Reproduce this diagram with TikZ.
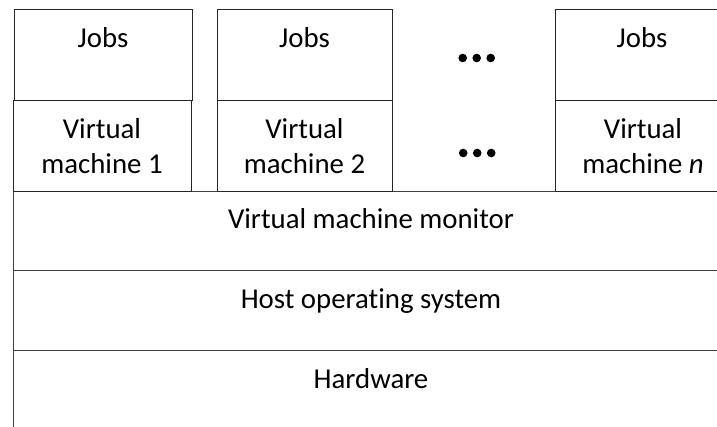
\documentclass[tikz,border=0pt]{standalone}
\usepackage{fontspec}
\setmainfont[Ligatures={NoCommon}]{Carlito}
\begin{document}
\begin{tikzpicture}[x=1pt,y=-1pt,
  box/.style={draw=black!85, line width=1.4pt, inner sep=0pt, anchor=north west},
  layer/.style={draw=black!75, line width=1.4pt, inner sep=0pt, anchor=north west, minimum width=717.5pt},
  txt/.style={font=\fontsize{28.8}{34.5}\selectfont, inner sep=0pt, align=center},
  dot/.style={fill=black}]
\useasboundingbox (0,0) rectangle (717,426);
\clip (0,0) rectangle (717,426);
% stack layers
\node[layer, minimum height=79pt] (vmm) at (12.5,191) {};
\node[layer, minimum height=80pt] (host) at (12.5,270) {};
\node[layer, minimum height=90pt] (hw) at (12.5,350) {};
% virtual machines
\node[box, minimum width=178pt, minimum height=90.5pt] (jobs1) at (14,9) {};
\node[box, minimum width=178.5pt, minimum height=91.5pt] (vm1) at (12.5,99.5) {};
\node[box, minimum width=175pt, minimum height=90.5pt] (jobs2) at (217,9) {};
\node[box, minimum width=175pt, minimum height=91.5pt] (vm2) at (217,99.5) {};
\node[box, minimum width=175pt, minimum height=90.5pt] (jobsn) at (555,9) {};
\node[box, minimum width=175pt, minimum height=91.5pt] (vmn) at (555,99.5) {};
% texts
\node[txt, anchor=base] (tj1) at (103,47) {Jobs};
\node[txt, anchor=base] (tj2) at (304.5,47) {Jobs};
\node[txt, anchor=base] (tjn) at (642,47) {Jobs};
\node[txt] (tv1) at (102,146) {Virtual\\machine 1};
\node[txt] (tv2) at (304.5,146) {Virtual\\machine 2};
\node[txt] (tvn) at (643,146) {Virtual\\machine \textit{n}};
\node[txt, anchor=base] (tvmm) at (371,228) {Virtual machine monitor};
\node[txt, anchor=base] (thost) at (371,308) {Host operating system};
\node[txt, anchor=base] (thw) at (371,388) {Hardware};
% ellipses
\foreach \x in {462.7,476.7,490.7} {
  \fill[dot] (\x,58) circle (4.3);
  \fill[dot] (\x+0.5,153) circle (4.3);
}
\end{tikzpicture}
\end{document}
